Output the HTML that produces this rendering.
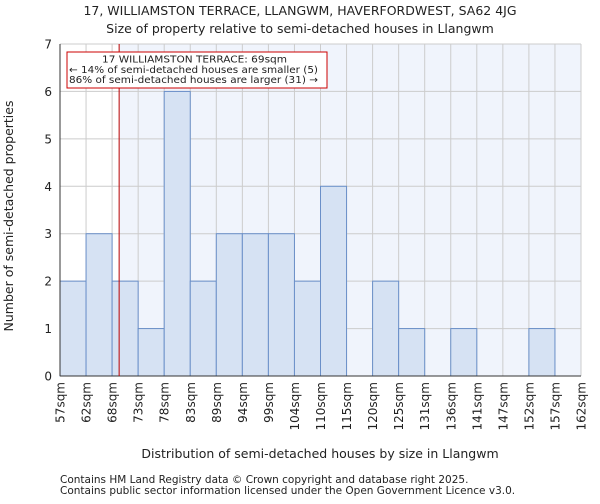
<!DOCTYPE html>
<html><head><meta charset="utf-8"><style>
body{margin:0;background:#fff;font-family:"DejaVu Sans","Liberation Sans",sans-serif;}
text{font-family:"DejaVu Sans","Liberation Sans",sans-serif;fill:#222;}
</style></head><body>
<svg id="chart" width="600" height="500" xmlns="http://www.w3.org/2000/svg">
<text x="300" y="15" font-size="12.5" text-anchor="middle">17, WILLIAMSTON TERRACE, LLANGWM, HAVERFORDWEST, SA62 4JG</text>
<text x="300" y="33" font-size="12.5" text-anchor="middle">Size of property relative to semi-detached houses in Llangwm</text>
<g id="plot"></g>
<text x="320" y="458" font-size="12.5" text-anchor="middle">Distribution of semi-detached houses by size in Llangwm</text>
<text transform="translate(13,216) rotate(-90)" font-size="12.5" text-anchor="middle">Number of semi-detached properties</text>
<text x="60" y="483" font-size="10.5">Contains HM Land Registry data © Crown copyright and database right 2025.</text>
<text x="60" y="494" font-size="10.5">Contains public sector information licensed under the Open Government Licence v3.0.</text>
</svg>
<script>
const binLabels=["57sqm","62sqm","68sqm","73sqm","78sqm","83sqm","89sqm","94sqm","99sqm","104sqm","110sqm","115sqm","120sqm","125sqm","131sqm","136sqm","141sqm","147sqm","152sqm","157sqm","162sqm"];
const counts=[2,3,2,1,6,2,3,3,3,2,4,0,2,1,0,1,0,0,1,0];
const yTicks=[0,1,2,3,4,5,6,7];
const markerBin=2.27;
const NS="http://www.w3.org/2000/svg";
const g=document.getElementById('plot');
const L=60,R=581,T=44,B=376,yMax=7;
const bw=(R-L)/counts.length;
const xs=i=>L+i*bw, ys=v=>B-(v/yMax)*(B-T);
function mk(t,a){const e=document.createElementNS(NS,t);for(const k in a)e.setAttribute(k,a[k]);g.appendChild(e);return e;}
const mx=xs(markerBin);
let e=mk('rect',{x:mx,y:T,width:R-mx,height:B-T,fill:'#f0f4fc'});


yTicks.forEach(v=>{
 let l=mk('line',{x1:L,x2:R,y1:ys(v),y2:ys(v),stroke:'#ccc','stroke-width':1});
 
 
 let t=mk('text',{x:L-8,y:ys(v)+4.5,'font-size':12,'text-anchor':'end'});t.textContent=v;
 
 
});
binLabels.forEach((s,i)=>{
 let l=mk('line',{x1:xs(i),x2:xs(i),y1:T,y2:B,stroke:'#ccc','stroke-width':1});
 
 
 let t=mk('text',{transform:`translate(${xs(i)+4.5},${B+6}) rotate(-90)`,'font-size':12,'text-anchor':'end'});t.textContent=s;
 
 
});
counts.forEach((c,i)=>{
 if(c<=0)return;
 let r=mk('rect',{x:xs(i),y:ys(c),width:bw,height:ys(0)-ys(c),fill:'#d6e2f3',stroke:'#6a8fc8','stroke-width':1});
 
 
});
e=mk('line',{x1:L,x2:L,y1:T,y2:B,stroke:'#333'});


e=mk('line',{x1:L,x2:R,y1:B,y2:B,stroke:'#333'});


e=mk('line',{x1:mx,x2:mx,y1:T,y2:B,stroke:'#bb0000','stroke-width':1});


e=mk('rect',{x:67,y:52,width:260,height:36,fill:'#fff',stroke:'#cc0000','stroke-width':1});


[["17 WILLIAMSTON TERRACE: 69sqm",102,62.5,185],["← 14% of semi-detached houses are smaller (5)",69,73,249],["86% of semi-detached houses are larger (31) →",69,83,249]].forEach(a=>{
 let t=mk('text',{x:a[1],y:a[2],'font-size':10,textLength:a[3],lengthAdjust:'spacingAndGlyphs'});t.textContent=a[0];
 
 
});
</script>
</body></html>
